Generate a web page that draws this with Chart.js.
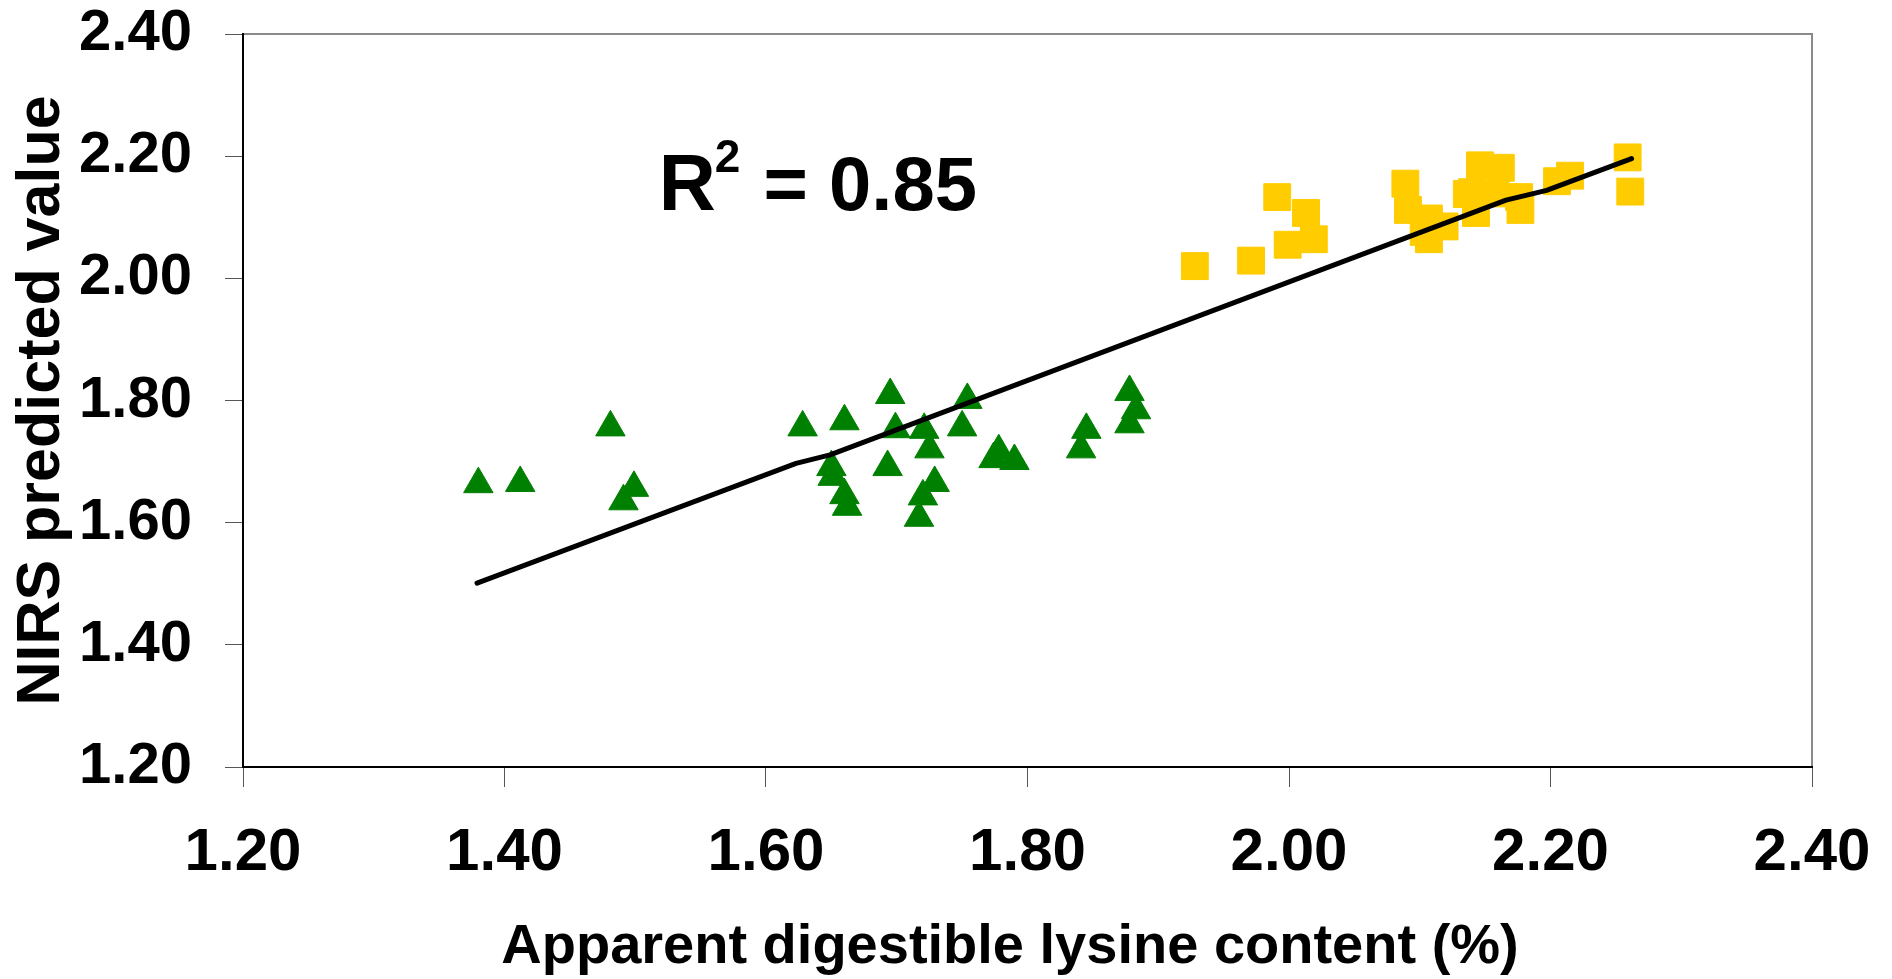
<!DOCTYPE html>
<html>
<head>
<meta charset="utf-8">
<title>NIRS predicted value vs apparent digestible lysine</title>
<script src="https://cdn.jsdelivr.net/npm/chart.js@4.4.0/dist/chart.umd.min.js"></script>
<style>
  html, body { margin: 0; padding: 0; background: #fff; }
  #wrap { width: 1892px; height: 979px; }
</style>
</head>
<body>
<div id="wrap"><canvas id="nirsChart" width="1892" height="979"></canvas></div>
<script>
// values
const greenX = [1.380, 1.412, 1.481, 1.499, 1.491, 1.628, 1.660, 1.695, 1.699, 1.650,
                1.651, 1.660, 1.662, 1.693, 1.721, 1.725, 1.729, 1.720, 1.717, 1.754,
                1.750, 1.778, 1.774, 1.790, 1.845, 1.841, 1.878, 1.883, 1.878];
const greenY = [1.663, 1.665, 1.756, 1.657, 1.635, 1.756, 1.766, 1.809, 1.753, 1.691,
                1.675, 1.645, 1.626, 1.691, 1.752, 1.720, 1.665, 1.643, 1.608, 1.801,
                1.756, 1.717, 1.704, 1.701, 1.752, 1.720, 1.814, 1.784, 1.761];

const yellowX = [1.928, 1.971, 1.991, 2.013, 1.999, 2.019, 2.089, 2.091, 2.107, 2.107,
                 2.103, 2.119, 2.146, 2.162, 2.136, 2.140, 2.143, 2.176, 2.177, 2.158,
                 2.205, 2.215, 2.259, 2.261];
const yellowY = [2.020, 2.029, 2.133, 2.107, 2.055, 2.064, 2.155, 2.112, 2.098, 2.064,
                 2.076, 2.085, 2.185, 2.181, 2.138, 2.141, 2.107, 2.133, 2.112, 2.139,
                 2.159, 2.168, 2.198, 2.142];

// fitted line as drawn in the figure
const fitX = [1.379, 1.623, 1.649, 2.166, 2.197, 2.262];
const fitY = [1.501, 1.697, 1.711, 2.128, 2.144, 2.196];

const axisTicks = ['1.20', '1.40', '1.60', '1.80', '2.00', '2.20', '2.40'];
const r2Label = ['R', '2', ' = 0.85'];
const xTitle = 'Apparent digestible lysine content (%)';
const yTitle = 'NIRS predicted value';

const FONT = "'Liberation Sans', Arial, sans-serif";

function toPoints(xs, ys) {
    return xs.map((x, i) => ({ x: x, y: ys[i] }));
}

// grey box on top and right of the plot area
const plotFrame = {
    id: 'plotFrame',
    beforeDraw(chart) {
        const { ctx, chartArea: a } = chart;
        ctx.save();
        ctx.strokeStyle = '#8a8a8a';
        ctx.lineWidth = 2;
        ctx.beginPath();
        ctx.moveTo(a.left, a.top);
        ctx.lineTo(a.right, a.top);
        ctx.lineTo(a.right, a.bottom);
        ctx.stroke();
        ctx.restore();
    }
};

// R squared text with superscript, plus the x axis title (sits a bit left of centre)
const textNotes = {
    id: 'textNotes',
    afterDraw(chart) {
        const ctx = chart.ctx;
        const xs = chart.scales.x, ys = chart.scales.y;
        const x0 = xs.getPixelForValue(1.518);
        const base = ys.getPixelForValue(2.112);
        ctx.save();
        ctx.fillStyle = '#000';
        ctx.textBaseline = 'alphabetic';
        ctx.textAlign = 'left';
        ctx.font = 'bold 79px ' + FONT;
        ctx.fillText(r2Label[0], x0, base);
        const w = ctx.measureText(r2Label[0]).width;
        ctx.font = 'bold 46px ' + FONT;
        ctx.fillText(r2Label[1], x0 + w - 1, base - 38);
        const w2 = ctx.measureText(r2Label[1]).width;
        ctx.font = 'bold 76px ' + FONT;
        ctx.fillText(r2Label[2], x0 + w + w2 + 1, base);

        ctx.textAlign = 'center';
        ctx.font = 'bold 56px ' + FONT;
        ctx.fillText(xTitle, chart.chartArea.left + 767, 963);
        ctx.restore();
    }
};

const ctx = document.getElementById('nirsChart').getContext('2d');

new Chart(ctx, {
    type: 'scatter',
    data: {
        datasets: [
            {
                type: 'line',
                label: 'Fit',
                data: toPoints(fitX, fitY),
                borderColor: '#000',
                borderWidth: 5,
                borderCapStyle: 'round',
                borderJoinStyle: 'round',
                pointRadius: 0,
                fill: false,
                tension: 0
            },
            {
                label: 'Group 1',
                data: toPoints(greenX, greenY),
                pointStyle: 'triangle',
                pointRadius: 17,
                backgroundColor: '#008000',
                borderColor: '#008000',
                borderWidth: 1
            },
            {
                label: 'Group 2',
                data: toPoints(yellowX, yellowY),
                pointStyle: 'rect',
                pointRadius: 19,
                backgroundColor: '#ffcc00',
                borderColor: '#ffcc00',
                borderWidth: 1
            }
        ]
    },
    options: {
        responsive: false,
        animation: false,
        layout: { padding: { top: 34, right: 80, left: 0, bottom: 0 } },
        plugins: {
            legend: { display: false },
            tooltip: { enabled: false }
        },
        scales: {
            x: {
                type: 'linear',
                min: 1.2,
                max: 2.4,
                afterFit(scale) {
                    scale.height = 212;
                    scale.paddingLeft = 0;
                    scale.paddingRight = 0;
                },
                border: { color: '#000', width: 2 },
                grid: { drawOnChartArea: false, drawTicks: true, tickLength: 20, color: '#555', lineWidth: 1 },
                ticks: {
                    stepSize: 0.2,
                    padding: 30,
                    color: '#000',
                    maxRotation: 0,
                    font: { family: FONT, size: 60, weight: 'bold' },
                    callback: (v, i) => axisTicks[i]
                },
                title: { display: false }
            },
            y: {
                type: 'linear',
                min: 1.2,
                max: 2.4,
                afterFit(scale) {
                    scale.width = 243;
                    scale.paddingTop = 0;
                    scale.paddingBottom = 0;
                },
                border: { color: '#000', width: 2 },
                grid: { drawOnChartArea: false, drawTicks: true, tickLength: 18, color: '#555', lineWidth: 1 },
                ticks: {
                    stepSize: 0.2,
                    padding: 33,
                    color: '#000',
                    font: { family: FONT, size: 58, weight: 'bold' },
                    callback: (v, i) => axisTicks[i]
                },
                title: {
                    display: true,
                    text: yTitle,
                    color: '#000',
                    font: { family: FONT, size: 61, weight: 'bold' },
                    padding: { top: 6, bottom: 0 }
                }
            }
        }
    },
    plugins: [plotFrame, textNotes]
});
</script>
</body>
</html>
